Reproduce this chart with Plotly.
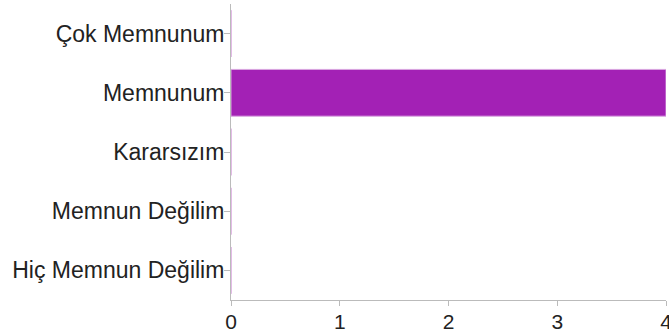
import plotly.graph_objects as go

categories = ["Çok Memnunum", "Memnunum", "Kararsızım", "Memnun Değilim", "Hiç Memnun Değilim"]
counts = [0, 4, 0, 0, 0]
x_ticks = [0, 1, 2, 3, 4]

fig = go.Figure(go.Bar(
    x=counts, y=categories, orientation="h",
    marker=dict(color="#A321B5", line=dict(color="#D9A6E0", width=1)),
    width=0.79,
))

fig.update_layout(
    width=669, height=336,
    margin=dict(l=231, r=3, t=4, b=36),
    paper_bgcolor="white", plot_bgcolor="white",
    font=dict(family="Liberation Sans, Arial, sans-serif", size=22, color="#222"),
    showlegend=False,
    bargap=0.21,
)
fig.update_xaxes(
    range=[0, 4], tickvals=x_ticks, ticktext=[str(v) for v in x_ticks],
    showgrid=False, zeroline=False, showline=True, linecolor="#BBBBBB", linewidth=1,
    ticks="outside", ticklen=5, tickcolor="#BBBBBB", tickfont=dict(size=21),
    automargin=False, ticklabeloverflow="allow", ticklabelstandoff=-2,
)
fig.update_yaxes(
    categoryorder="array", categoryarray=categories[::-1],
    showgrid=False, zeroline=False, showline=True, linecolor="#BBBBBB", linewidth=1,
    ticks="outside", ticklen=6, tickcolor="#BBBBBB", ticklabelstandoff=-5,
    tickfont=dict(size=23), automargin=False,
)

fig.write_html(
    "out.html",
    config={"displayModeBar": False},
    post_script="document.body.style.margin='0';document.body.style.overflow='hidden';",
)
